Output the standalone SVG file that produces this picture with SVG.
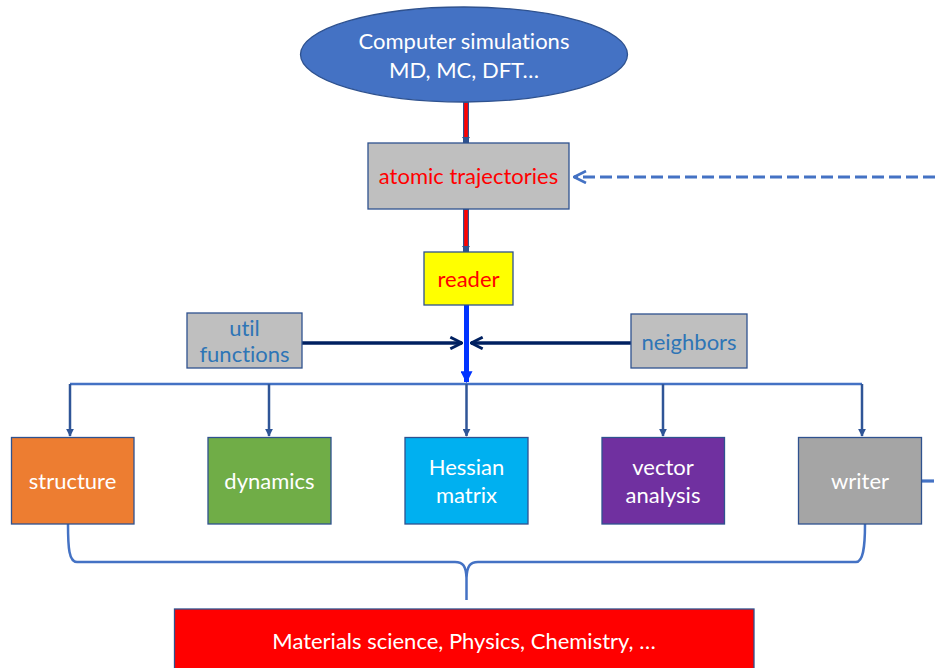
<svg xmlns="http://www.w3.org/2000/svg" width="935" height="668" viewBox="0 0 935 668">
<style>
text{font-family:Lato,"Liberation Sans",sans-serif;font-size:22px;text-anchor:middle;font-variant-ligatures:none}
.w{fill:#ffffff}
.r{fill:#ff0000}
.b{fill:#2e75b6}
.box{stroke:#2f528f;stroke-width:1.3}
.bus{fill:none;stroke:#4472c4;stroke-width:2.5}
.drop{fill:none;stroke:#2f5597;stroke-width:2.5}
</style>
<defs>
<marker id="tri" viewBox="0 0 10 10" refX="9" refY="5" markerWidth="3.2" markerHeight="3.2" orient="auto" markerUnits="strokeWidth"><path d="M0,0L10,5L0,10z" fill="#2f5597"/></marker>
<marker id="trib" viewBox="0 0 10 10" refX="9" refY="5" markerWidth="2.4" markerHeight="2.4" orient="auto" markerUnits="strokeWidth"><path d="M0,0L10,5L0,10z" fill="#0033ff"/></marker>
<marker id="chev" viewBox="0 0 12 12" refX="11" refY="6" markerWidth="4" markerHeight="4" orient="auto" markerUnits="strokeWidth"><path d="M1,1L11,6L1,11" fill="none" stroke="#002060" stroke-width="2.4"/></marker>
<marker id="chevd" viewBox="0 0 12 12" refX="11" refY="6" markerWidth="4.5" markerHeight="4.5" orient="auto" markerUnits="strokeWidth"><path d="M1,1L11,6L1,11" fill="none" stroke="#4472c4" stroke-width="2.2"/></marker>
</defs>
<g id="connectors">
<line x1="466" y1="102" x2="466" y2="143" stroke="#2f528f" stroke-width="6"/>
<line x1="466" y1="103" x2="466" y2="138" stroke="#ff0000" stroke-width="3.6"/>
<path d="M462,137L470,137L466,143z" fill="#2f528f"/>
<line x1="466" y1="209" x2="466" y2="252" stroke="#2f528f" stroke-width="6"/>
<line x1="466" y1="210" x2="466" y2="246" stroke="#ff0000" stroke-width="3.6"/>
<path d="M462,246L470,246L466,252z" fill="#2f528f"/>
<line x1="466.5" y1="305" x2="466.5" y2="382" stroke="#0033ff" stroke-width="5" marker-end="url(#trib)"/>
<line x1="302" y1="343" x2="462" y2="343" stroke="#002060" stroke-width="3.5" marker-end="url(#chev)"/>
<line x1="631" y1="343" x2="471" y2="343" stroke="#002060" stroke-width="3.5" marker-end="url(#chev)"/>
<path class="bus" d="M70,384H862"/>
<path class="drop" d="M70,384V436" marker-end="url(#tri)"/>
<path class="drop" d="M269,384V436" marker-end="url(#tri)"/>
<path class="drop" d="M466.5,384V436" marker-end="url(#tri)"/>
<path class="drop" d="M663,384V436" marker-end="url(#tri)"/>
<path class="drop" d="M862,384V436" marker-end="url(#tri)"/>
<line x1="935" y1="177" x2="574" y2="177" stroke="#4472c4" stroke-width="3.2" stroke-dasharray="12,5" marker-end="url(#chevd)"/>
<line x1="922" y1="481" x2="935" y2="481" stroke="#4472c4" stroke-width="3.2" stroke-dasharray="12,5"/>
<path class="bus" d="M68,524C68,548 69,562 77,562H455C463,562 466,566 466.5,578V600M466.5,578C467,566 470,562 478,562H856C863,562 865,548 865,524"/>
</g>
<g id="sim"><ellipse cx="464" cy="54.5" rx="163.5" ry="47.5" fill="#4472c4" class="box"/><text class="w" x="464" y="49">Computer simulations</text><text class="w" x="464" y="78">MD, MC, DFT…</text></g>
<g id="traj"><rect x="368" y="143" width="201" height="66" fill="#bfbfbf" class="box"/><text class="r" x="468.5" y="184">atomic trajectories</text></g>
<g id="reader"><rect x="424" y="252" width="89" height="53" fill="#ffff00" class="box"/><text class="r" x="468.5" y="287">reader</text></g>
<g id="util"><rect x="187" y="313" width="115" height="55" fill="#bfbfbf" class="box"/><text class="b" x="244.5" y="336">util</text><text class="b" x="244.5" y="362">functions</text></g>
<g id="neighbors"><rect x="631" y="314" width="116" height="54" fill="#bfbfbf" class="box"/><text class="b" x="689" y="350">neighbors</text></g>
<g id="structure"><rect x="11.5" y="437.5" width="122.5" height="86.5" fill="#ed7d31" class="box"/><text class="w" x="72.5" y="489">structure</text></g>
<g id="dynamics"><rect x="208" y="437.5" width="123" height="86.5" fill="#70ad47" class="box"/><text class="w" x="269.5" y="489">dynamics</text></g>
<g id="hessian"><rect x="405" y="437.5" width="123" height="86.5" fill="#00b0f0" class="box"/><text class="w" x="466.5" y="475">Hessian</text><text class="w" x="466.5" y="503">matrix</text></g>
<g id="vector"><rect x="602" y="437.5" width="122.5" height="86.5" fill="#7030a0" class="box"/><text class="w" x="663" y="475">vector</text><text class="w" x="663" y="503">analysis</text></g>
<g id="writer"><rect x="798.5" y="437.5" width="123" height="86.5" fill="#a5a5a5" class="box"/><text class="w" x="860" y="489">writer</text></g>
<g id="fields"><rect x="174.5" y="609" width="579.5" height="62" fill="#ff0000" class="box"/><text class="w" x="464" y="649">Materials science, Physics, Chemistry, …</text></g>
</svg>
